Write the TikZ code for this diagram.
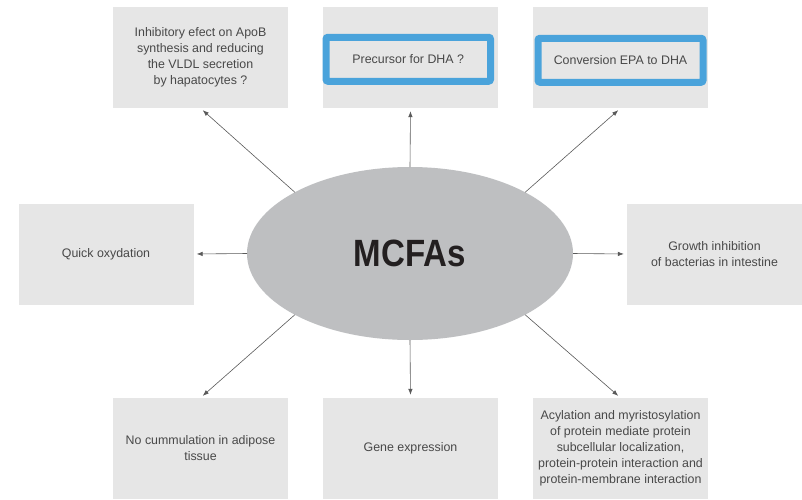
\documentclass[tikz,border=0pt]{standalone}
\usepackage{fontspec}
\setmainfont{Liberation Sans}
\newfontfamily\titlefont[FakeStretch=0.87]{Liberation Sans}
\usetikzlibrary{shapes.geometric,arrows.meta}
\definecolor{boxgray}{HTML}{E6E6E6}
\definecolor{ovalgray}{HTML}{BEBFC1}
\definecolor{frameblue}{HTML}{4AA3DB}
\definecolor{txtgray}{HTML}{484848}
\definecolor{arrgray}{HTML}{5A5A5A}
\tikzset{
	effect/.style={rectangle, fill=boxgray, minimum width=175pt, minimum height=101pt, inner sep=0pt, align=center, text=txtgray, font=\fontsize{12.4}{16}\selectfont},
	hilite/.style={rectangle, draw=frameblue, line width=7pt, rounded corners=2pt, inner sep=0pt, minimum height=44pt, align=center, text=txtgray, font=\fontsize{12.4}{16}\selectfont},
	arr/.style={-{Latex[length=6pt,width=4.5pt]}, draw=arrgray, line width=0.6pt, shorten >=3pt}
}
\begin{document}
\begin{tikzpicture}[x=1pt,y=-1pt]
		\path[use as bounding box, fill=white] (0,0) rectangle (802,499);
		\node[effect] (tl) at (200.5,57.5) {Inhibitory efect on ApoB\\synthesis and reducing\\the VLDL secretion\\by hapatocytes ?};
		\node[effect] (tm) at (410.5,57.5) {};
		\node[effect] (tr) at (620.5,57.5) {};
		\node[hilite, minimum width=164.5pt] (dha) at (408.25,59.25) {Precursor for DHA ?};
		\node[hilite, minimum width=165pt] (epa) at (620.5,60.25) {Conversion EPA to DHA};
		\node[effect] (ml) at (106,254) {Quick oxydation};
		\node[effect] (mr) at (714.5,254) {Growth inhibition\\of bacterias in intestine};
		\node[effect] (bl) at (200.5,448.5) {No cummulation in adipose\\tissue};
		\node[effect] (bm) at (410.5,448.5) {Gene expression};
		\node[effect] (br) at (620.5,448.5) {Acylation and myristosylation\\of protein mediate protein\\subcellular localization,\\protein-protein interaction and\\protein-membrane interaction};
		\node[ellipse, fill=ovalgray, minimum width=326pt, minimum height=173pt, inner sep=0pt, outer sep=0pt, text={rgb,255:red,35;green,31;blue,32}] (mcfa) at (410,253.5) {\fontsize{38}{38}\titlefont\bfseries MCFAs};
		\foreach \a/\b/\c in {152/tl/south, 90/tm/south, 28/tr/south, 180/ml/east, 0/mr/west, 208/bl/north, 270/bm/north, 332/br/north}
		\draw[arr] (mcfa.\a) -- (\b.\c);
	\end{tikzpicture}
\end{document}
